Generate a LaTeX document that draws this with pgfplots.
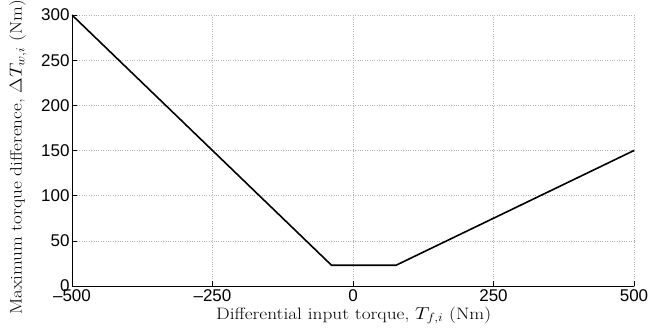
\documentclass[border=0pt]{standalone}
\usepackage{graphicx}
\usepackage{pgfplots}
\pgfplotsset{compat=1.18}
\usetikzlibrary{calc}
\usepackage{fontspec}
\newfontfamily\tickfont{Liberation Sans}
\begin{document}
\begin{tikzpicture}
\begin{axis}[
  scale only axis,
  width=562pt, height=271pt,
  at={(0pt,0pt)}, anchor=south west,
  xmin=-500, xmax=500, ymin=0, ymax=300,
  xtick={-500,-250,0,250,500},
  xticklabels={\textendash500,\textendash250,0,250,500},
  ytick={0,50,100,150,200,250,300},
  axis x line*=bottom, axis y line*=left,
  axis line style={line width=0.8pt, -},
  tick align=inside,
  major tick length=5pt,
  tick style={black, line width=0.6pt},
  grid=major,
  grid style={dotted, gray!60, line width=0.5pt},
  tick label style={font=\tickfont\fontsize{17}{18}\selectfont},
  /pgf/number format/assume math mode=true,
  /pgf/number format/set thousands separator={},
  yticklabel style={xshift=1pt},
  xlabel={\scalebox{1.17}[1]{Differential input torque, $T_{f,i}$ (Nm)}},
  ylabel={\scalebox{1.16}[1]{Maximum torque difference, $\Delta T_{w,i}$ (Nm)}},
  label style={font=\fontsize{16.5}{18}\selectfont, inner sep=0pt},
  xlabel style={at={($(axis description cs:0,0)+(144pt,-33.3pt)$)}, anchor=base west},
  ylabel style={at={($(axis description cs:0,0)+(-50.3pt,-29pt)$)}, anchor=base west},
]
\addplot[black, line width=1.6pt] coordinates {(-500,300) (-38.3,23) (76.7,23) (500,150)};
\end{axis}
\pgfresetboundingbox
\path (-72pt,-43pt) rectangle (578pt,286pt);
\end{tikzpicture}
\end{document}
